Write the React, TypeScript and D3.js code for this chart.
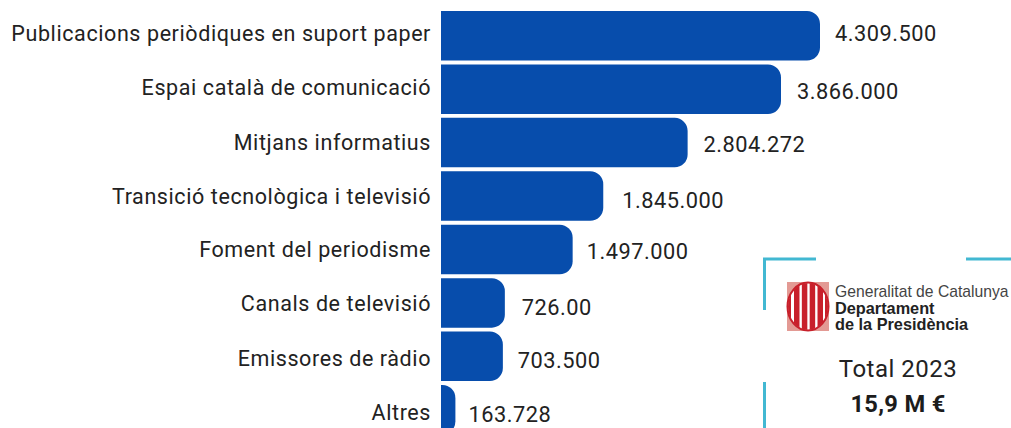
import React from "react";
import * as d3 from "d3";

const categories = [
  "Publicacions periòdiques en suport paper",
  "Espai català de comunicació",
  "Mitjans informatius",
  "Transició tecnològica i televisió",
  "Foment del periodisme",
  "Canals de televisió",
  "Emissores de ràdio",
  "Altres",
];
const amounts = [4309500, 3866000, 2804272, 1845000, 1497000, 726000, 703500, 163728];
const amountLabels = ["4.309.500", "3.866.000", "2.804.272", "1.845.000", "1.497.000", "726.00", "703.500", "163.728"];
const stripes = [0, 1, 2, 3];

// Hand-set text nudges per row, in pixels.
const categoryNudgeY = [-2.5, -1.5, 0, 0, 0, 0.5, 2, 2.5];
const amountNudgeY = [-2.5, 2, 2, 4, 2, 4, 4, 4.5];
const amountNudgeX = [0, 1, 1, 4, -1, 2, 0, -2];

const WIDTH = 1011;
const HEIGHT = 428;
const FONT = "Roboto, sans-serif";
const SANS = "Liberation Sans, Arial, sans-serif";
const BLUE = "#074dac";
const TEAL = "#42b8d2";
const RED = "#c8202b";
const INK = "#222222";

const x = d3.scaleLinear().domain([0, 4309500]).range([441, 820]);
const y = d3.scaleBand<string>().domain(categories).range([11, 434.5]).paddingInner(0.073).paddingOuter(0);

function barPath(value: number, name: string) {
  const x0 = x(0);
  const x1 = x(value);
  const top = y(name) as number;
  const h = y.bandwidth();
  const r = Math.min(13, x1 - x0);
  const p = d3.path();
  p.moveTo(x0, top);
  p.lineTo(x1 - r, top);
  p.arcTo(x1, top, x1, top + r, r);
  p.lineTo(x1, top + h - r);
  p.arcTo(x1, top + h, x1 - r, top + h, r);
  p.lineTo(x0, top + h);
  p.closePath();
  return p.toString();
}

function Shield() {
  const s = d3.scaleBand<number>().domain(stripes).range([794, 823]).paddingInner(0.3);
  return (
    <g>
      <rect x={787} y={282} width={42} height={49} fill="#e39a94" />
      <ellipse cx={808} cy={306.5} rx={20.5} ry={24} fill="#fff" stroke={RED} strokeWidth={2} />
      <clipPath id="shield-clip">
        <ellipse cx={808} cy={306.5} rx={20} ry={23.5} />
      </clipPath>
      <g clipPath="url(#shield-clip)">
        <rect x={787} y={282} width={4} height={49} fill={RED} />
        {stripes.map((d) => (
          <rect key={d} x={s(d)} y={282} width={s.bandwidth()} height={49} fill={RED} />
        ))}
        <rect x={825} y={282} width={4} height={49} fill={RED} />
      </g>
    </g>
  );
}

export default function App() {
  return (
    <svg
      width={WIDTH}
      height={HEIGHT}
      viewBox={`0 0 ${WIDTH} ${HEIGHT}`}
      style={{ position: "absolute", left: 0, top: 0, background: "#fff" }}
      fontFamily={FONT}
    >
      {categories.map((name, i) => {
        const cy = (y(name) as number) + y.bandwidth() / 2;
        return (
          <g key={name}>
            <path d={barPath(amounts[i], name)} fill={BLUE} />
            <text x={431} y={cy + categoryNudgeY[i]} dy="0.35em" textAnchor="end" fontSize={21.5} letterSpacing={0.59} fill={INK}>
              {name}
            </text>
            <text x={x(amounts[i]) + 15 + amountNudgeX[i]} y={cy + amountNudgeY[i]} dy="0.35em" fontSize={21.8} letterSpacing={0.5} fill={INK}>
              {amountLabels[i]}
            </text>
          </g>
        );
      })}

      <g fill="none" stroke={TEAL} strokeWidth={3}>
        <path d="M816,259 H764.5 V310" />
        <path d="M966,259 H1011" />
        <path d="M764.5,382 V428" />
      </g>

      <Shield />
      <text x={835} y={297} fontFamily={SANS} fontSize={15.7} fill="#444">
        Generalitat de Catalunya
      </text>
      <text x={835} y={314} fontFamily={SANS} fontSize={16.3} fontWeight={700} fill="#222">
        Departament
      </text>
      <text x={835} y={330} fontFamily={SANS} fontSize={16.3} fontWeight={700} fill="#222">
        de la Presidència
      </text>
      <text x={898} y={377} textAnchor="middle" fontSize={24} letterSpacing={0.5} fill={INK}>
        Total 2023
      </text>
      <text x={898} y={412} textAnchor="middle" fontSize={23.7} fontWeight={700} letterSpacing={0.3} fill="#1c1c1c">
        15,9 M €
      </text>
    </svg>
  );
}
